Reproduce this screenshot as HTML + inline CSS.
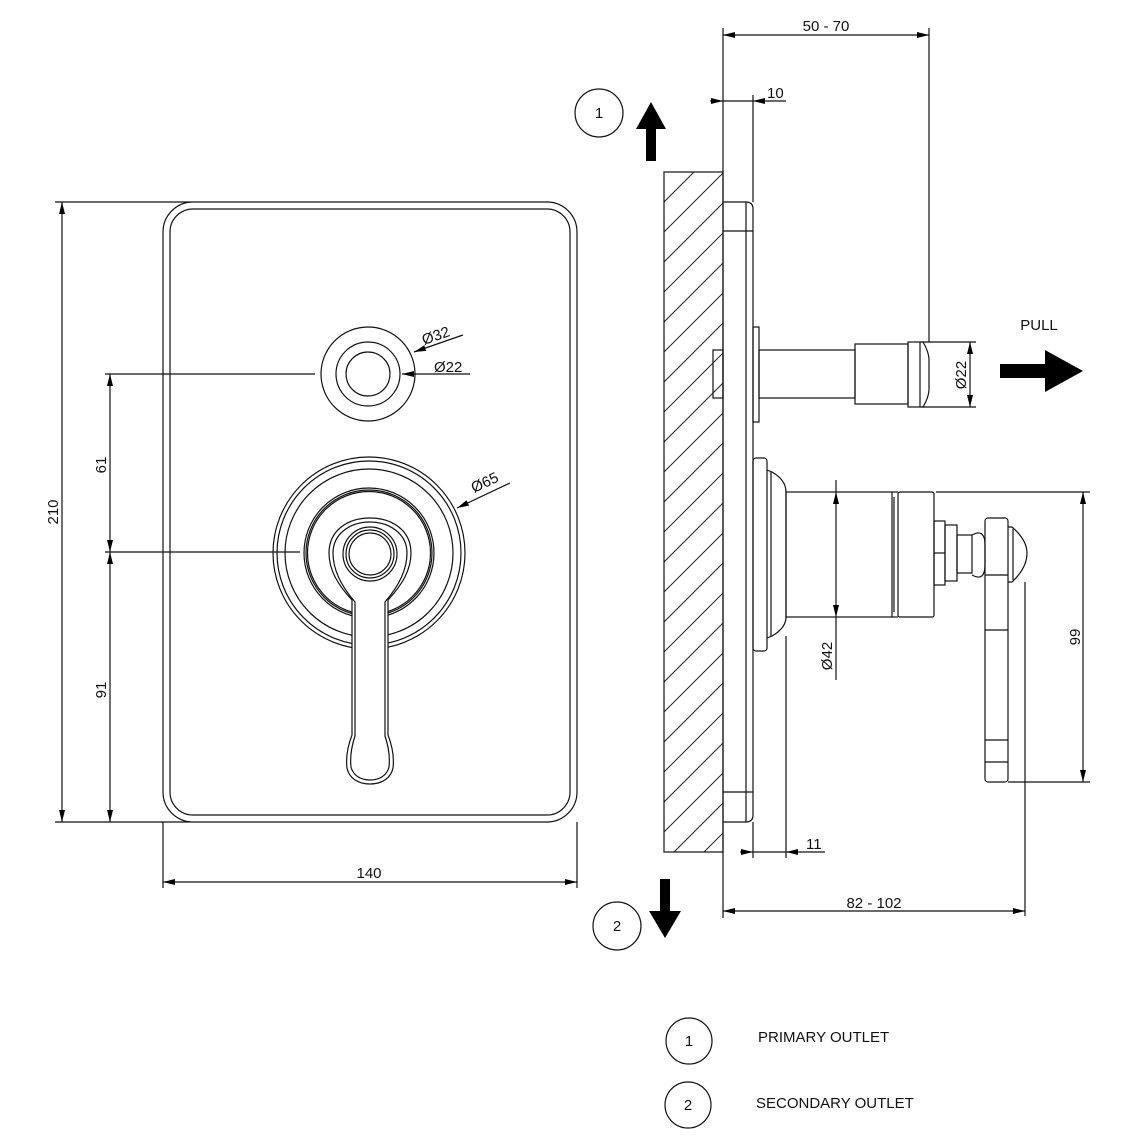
<!DOCTYPE html>
<html><head><meta charset="utf-8"><style>
html,body{margin:0;padding:0;background:#fff}
svg{display:block}
text{font-family:"Liberation Sans",sans-serif;font-size:15px;fill:#111}
</style></head><body>
<svg width="1143" height="1143" viewBox="0 0 1143 1143" xmlns="http://www.w3.org/2000/svg">
<defs>
<marker id="a" viewBox="0 0 12 6" refX="12" refY="3" markerWidth="12" markerHeight="6" markerUnits="userSpaceOnUse" orient="auto-start-reverse"><path d="M0,0 L12,3 L0,6z" fill="#000"/></marker>
<pattern id="h" width="30" height="30" patternUnits="userSpaceOnUse" x="664" y="172"><path d="M-3,33 L33,-3 M-10,10 L10,-10 M20,40 L40,20" stroke="#222" stroke-width="1"/></pattern>
</defs>
<g fill="none" stroke="#111" stroke-width="1.2">
<rect x="163" y="202" width="414" height="620" rx="30"/>
<rect x="170" y="209" width="400" height="606" rx="23"/>
<circle cx="368" cy="374" r="47"/>
<circle cx="368" cy="374" r="32"/>
<circle cx="368" cy="374" r="22"/>
<circle cx="369" cy="553" r="96"/>
<circle cx="369" cy="553" r="92"/>
<circle cx="369" cy="553" r="84"/>
<circle cx="369" cy="553" r="65"/>
<circle cx="369" cy="553" r="63"/>
<circle cx="369" cy="553" r="61.5"/>
<path d="M352,600 C338,585 329,570 329,553 C329,531 347,518 370,518 C393,518 411,531 411,553 C411,570 402,585 388,600 L388,735 C393,748 394,760 393,768 C391,778 382,784 370,784 C358,784 349,778 347,768 C346,760 347,748 352,735 Z" fill="#fff"/>
<path d="M355,602 C342,587 333,571 333,553 C333,534 350,522 370,522 C390,522 407,534 407,553 C407,571 398,587 385,602 L385,736 C389,748 390,758 389,767 C387,775 380,780 370,780 C360,780 353,775 351,767 C350,758 351,748 355,736 Z"/>
<circle cx="370" cy="554" r="27"/>
<circle cx="370" cy="554" r="24"/>
<circle cx="370" cy="554" r="21"/>
<line x1="55" y1="202" x2="190" y2="202"/>
<line x1="55" y1="822" x2="190" y2="822"/>
<line x1="62" y1="202" x2="62" y2="822" marker-start="url(#a)" marker-end="url(#a)"/>
<line x1="105" y1="374" x2="315" y2="374"/>
<line x1="105" y1="552" x2="300" y2="552"/>
<line x1="110" y1="374" x2="110" y2="552" marker-start="url(#a)" marker-end="url(#a)"/>
<line x1="110" y1="552" x2="110" y2="822" marker-start="url(#a)" marker-end="url(#a)"/>
<line x1="163" y1="822" x2="163" y2="888"/>
<line x1="577" y1="822" x2="577" y2="888"/>
<line x1="163" y1="882" x2="577" y2="882" marker-start="url(#a)" marker-end="url(#a)"/>
<line x1="414" y1="352" x2="463" y2="335" marker-start="url(#a)"/>
<line x1="402" y1="374" x2="470" y2="374" marker-start="url(#a)"/>
<line x1="457" y1="508" x2="510" y2="483" marker-start="url(#a)"/>
<rect x="664" y="172" width="59" height="680" fill="url(#h)"/>
<line x1="723" y1="28" x2="723" y2="918"/>
<path d="M723,202 L746,202 Q753,202 753,209 L753,815 Q753,822 746,822 L723,822"/>
<line x1="746" y1="202" x2="746" y2="822"/>
<line x1="723" y1="231" x2="753" y2="231"/>
<line x1="723" y1="792" x2="753" y2="792"/>
<line x1="753" y1="95" x2="753" y2="202"/>
<line x1="753" y1="822" x2="753" y2="858"/>
<rect x="713" y="350" width="10" height="48"/>
<rect x="753" y="327" width="6" height="95"/>
<rect x="759" y="350" width="96" height="48"/>
<rect x="855" y="344" width="53" height="60"/>
<rect x="908" y="342" width="12" height="65"/>
<path d="M920,342 L923,342 Q929,352 929,360 L929,389 Q929,397 923,407 L920,407"/>
<rect x="753" y="458" width="14" height="193" rx="3"/>
<path d="M767,470 L772,472 Q786,480 786,492 L786,617 Q786,628 772,636 L767,638"/>
<line x1="771" y1="472" x2="771" y2="636"/>
<rect x="786" y="492" width="106" height="125"/>
<line x1="892" y1="492" x2="898" y2="492"/><line x1="892" y1="617" x2="898" y2="617"/>
<line x1="894" y1="497" x2="894" y2="612"/>
<rect x="898" y="492" width="36" height="125" rx="2"/>
<rect x="934" y="521" width="11" height="64"/>
<line x1="934" y1="553" x2="945" y2="553"/>
<rect x="945" y="525" width="12" height="56"/>
<rect x="957" y="535" width="15" height="38"/>
<path d="M972,535 Q985,528 985,545 L985,565 Q985,582 972,575"/>
<rect x="985" y="518" width="23" height="264" rx="3"/>
<line x1="985" y1="575" x2="1008" y2="575"/>
<line x1="985" y1="630" x2="1008" y2="630"/>
<line x1="985" y1="740" x2="1008" y2="740"/>
<line x1="985" y1="762" x2="1008" y2="762"/>
<path d="M1008,527 L1012,527 Q1027,540 1027,553 Q1027,568 1012,582 L1008,582"/>
<line x1="1013" y1="529" x2="1013" y2="580"/>
<line x1="929" y1="28" x2="929" y2="342"/>
<line x1="723" y1="35" x2="929" y2="35" marker-start="url(#a)" marker-end="url(#a)"/>
<line x1="710" y1="101" x2="723" y2="101" marker-end="url(#a)"/>
<line x1="723" y1="101" x2="753" y2="101"/>
<line x1="766" y1="101" x2="753" y2="101" marker-end="url(#a)"/>
<line x1="766" y1="101" x2="786" y2="101"/>
<line x1="922" y1="342" x2="976" y2="342"/>
<line x1="922" y1="407" x2="976" y2="407"/>
<line x1="970" y1="342" x2="970" y2="407" marker-start="url(#a)" marker-end="url(#a)"/>
<line x1="836" y1="480" x2="836" y2="492" />
<line x1="836" y1="492" x2="836" y2="617" marker-start="url(#a)" marker-end="url(#a)"/>
<line x1="836" y1="617" x2="836" y2="680"/>
<line x1="936" y1="492" x2="1090" y2="492"/>
<line x1="1008" y1="782" x2="1090" y2="782"/>
<line x1="1083" y1="492" x2="1083" y2="782" marker-start="url(#a)" marker-end="url(#a)"/>
<line x1="786" y1="636" x2="786" y2="858"/>
<line x1="740" y1="852" x2="753" y2="852" marker-end="url(#a)"/>
<line x1="753" y1="852" x2="786" y2="852"/>
<line x1="800" y1="852" x2="786" y2="852" marker-end="url(#a)"/>
<line x1="800" y1="852" x2="825" y2="852"/>
<line x1="1025" y1="582" x2="1025" y2="916"/>
<line x1="723" y1="911" x2="1025" y2="911" marker-start="url(#a)" marker-end="url(#a)"/>
<circle cx="599" cy="113" r="24"/>
<circle cx="617" cy="926" r="24"/>
<circle cx="689" cy="1041" r="23"/>
<circle cx="688" cy="1105" r="23"/>
</g>
<path d="M646,161 L656,161 L656,129 L666,129 L651,102 L636,129 L646,129Z" fill="#000"/>
<path d="M660,879 L670,879 L670,911 L681,911 L665,938 L649,911 L660,911Z" fill="#000"/>
<path d="M1000,364 L1045,364 L1045,350 L1083,371 L1045,392 L1045,378 L1000,378Z" fill="#000"/>
<text x="58" y="512" text-anchor="middle" transform="rotate(-90 58 512)">210</text>
<text x="106" y="465" text-anchor="middle" transform="rotate(-90 106 465)">61</text>
<text x="106" y="690" text-anchor="middle" transform="rotate(-90 106 690)">91</text>
<text x="369" y="878" text-anchor="middle">140</text>
<text x="424" y="345" transform="rotate(-19 424 345)">Ø32</text>
<text x="434" y="372">Ø22</text>
<text x="474" y="493" transform="rotate(-25 474 493)">Ø65</text>
<text x="826" y="31" text-anchor="middle">50 - 70</text>
<text x="767" y="98">10</text>
<text x="966" y="375" text-anchor="middle" transform="rotate(-90 966 375)">Ø22</text>
<text x="832" y="656" text-anchor="middle" transform="rotate(-90 832 656)">Ø42</text>
<text x="1080" y="637" text-anchor="middle" transform="rotate(-90 1080 637)">99</text>
<text x="806" y="849">11</text>
<text x="874" y="908" text-anchor="middle">82 - 102</text>
<text x="1039" y="330" text-anchor="middle">PULL</text>
<text x="599" y="118" text-anchor="middle">1</text>
<text x="617" y="931" text-anchor="middle">2</text>
<text x="689" y="1046" text-anchor="middle">1</text>
<text x="688" y="1110" text-anchor="middle">2</text>
<text x="758" y="1042">PRIMARY OUTLET</text>
<text x="756" y="1108">SECONDARY OUTLET</text>
</svg>
</body></html>
